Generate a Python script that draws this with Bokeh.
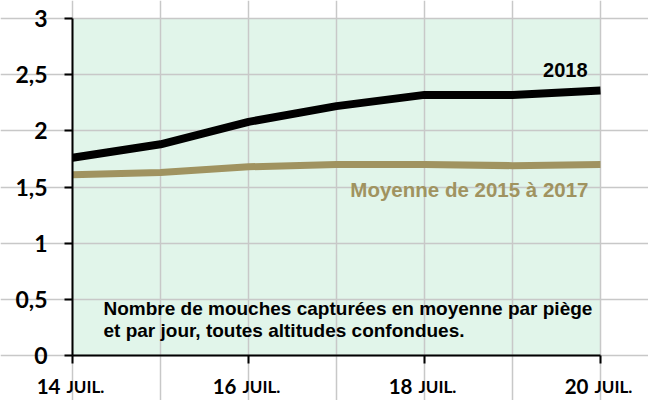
from bokeh.plotting import figure
from bokeh.models import FixedTicker, Range1d
from bokeh.core.properties import value
from bokeh.embed import file_html
from bokeh.resources import INLINE

days = [14, 15, 16, 17, 18, 19, 20]
series_2018 = [1.76, 1.88, 2.08, 2.22, 2.32, 2.32, 2.36]
series_moyenne = [1.61, 1.63, 1.68, 1.70, 1.70, 1.69, 1.70]
x_tick_days = [14, 16, 18, 20]
x_tick_numbers = ["14", "16", "18", "20"]
x_tick_month = "JUIL."
y_ticks = [0, 0.5, 1, 1.5, 2, 2.5, 3]
y_tick_labels = ["0", "0,5", "1", "1,5", "2", "2,5", "3"]
label_2018 = "2018"
label_moyenne = "Moyenne de 2015 à 2017"
note_lines = ["Nombre de mouches capturées en moyenne par piège",
              "et par jour, toutes altitudes confondues."]

BLACK = "#000000"
TAN = "#A09360"
BG = "#E1F5EA"
GRID = "#C8C8C8"

# layout: plot area spans 72..600 px horizontally, 18..355 px vertically
W, H = 648, 400
LEFT, RIGHT, TOP, BOTTOM = 72, 600, 18, 355
px_day = (RIGHT - LEFT) / (days[-1] - days[0])
px_unit = (BOTTOM - TOP) / (y_ticks[-1] - y_ticks[0])
x_start = days[0] - LEFT / px_day
x_end = days[-1] + (W - RIGHT) / px_day
y_end = y_ticks[-1] + TOP / px_unit
y_start = y_ticks[0] - (H - BOTTOM) / px_unit


def ypx(py):
    return (BOTTOM - py) / px_unit


def xpx(px):
    return days[0] + (px - LEFT) / px_day


p = figure(width=W, height=H, min_border=0,
           x_range=Range1d(x_start, x_end), y_range=Range1d(y_start, y_end),
           output_backend="svg", toolbar_location=None)

p.background_fill_color = "white"
p.border_fill_color = "white"
p.outline_line_color = None

# plot-area background
p.quad(left=[days[0]], right=[days[-1]], bottom=[y_ticks[0]], top=[y_ticks[-1]],
       fill_color=BG, line_color=None, level="image")

p.xgrid.ticker = FixedTicker(ticks=days)
p.ygrid.ticker = FixedTicker(ticks=y_ticks)
p.xgrid.bounds = (y_ticks[0], y_ticks[-1])
p.ygrid.bounds = (days[0], days[-1])
p.xgrid.grid_line_color = GRID
p.ygrid.grid_line_color = GRID
p.xgrid.grid_line_width = 1.5
p.ygrid.grid_line_width = 1.5

p.xaxis.fixed_location = y_ticks[0]
p.yaxis.fixed_location = days[0]
p.xaxis.bounds = (days[0], days[-1])
p.yaxis.bounds = (y_ticks[0], y_ticks[-1])
p.xaxis.ticker = FixedTicker(ticks=x_tick_days)
p.xaxis.major_label_overrides = {d: "" for d in x_tick_days}
p.yaxis.ticker = FixedTicker(ticks=y_ticks)
p.yaxis.major_label_overrides = {t: l for t, l in zip(y_ticks, y_tick_labels)}
p.yaxis.major_label_text_font = "Lato"
p.yaxis.major_label_text_font_style = "bold"
p.yaxis.major_label_text_font_size = "23px"
p.yaxis.major_label_text_color = BLACK
p.yaxis.major_label_standoff = 17
for ax in (p.xaxis, p.yaxis):
    ax.axis_line_color = BLACK
    ax.axis_line_width = 2
    ax.major_tick_line_color = BLACK
    ax.major_tick_line_width = 2
    ax.major_tick_out = 8
    ax.major_tick_in = 0
    ax.minor_tick_line_color = None

p.line(days, series_moyenne, line_color=TAN, line_width=7)
p.line(days, series_2018, line_color=BLACK, line_width=8)

arial = value("Liberation Sans")
p.text(x=[xpx(587)], y=[ypx(69)], text=[label_2018], text_align="right",
       text_baseline="alphabetic", text_font=arial, text_font_style="bold",
       text_font_size="20px", text_color=BLACK)
p.text(x=[xpx(588)], y=[ypx(189)], text=[label_moyenne], text_align="right",
       text_baseline="alphabetic", text_font=arial, text_font_style="bold",
       text_font_size="20.5px", text_color=TAN)
p.text(x=[xpx(103)] * len(note_lines), y=[ypx(308), ypx(330)], text=note_lines,
       text_align="left", text_baseline="alphabetic", text_font=arial,
       text_font_style="bold", text_font_size="19px", text_color=BLACK)

lato = value("Lato")
tick_y = [ypx(386)] * len(x_tick_days)
p.text(x=x_tick_days, y=tick_y, text=x_tick_numbers, text_align="right",
       x_offset=-12, text_baseline="alphabetic", text_font=lato,
       text_font_style="bold", text_font_size="20.5px", text_color=BLACK)
p.text(x=x_tick_days, y=tick_y, text=[x_tick_month] * len(x_tick_days),
       text_align="left", x_offset=-6, text_baseline="alphabetic",
       text_font=lato, text_font_style="bold", text_font_size="17px",
       text_color=BLACK)

open("out.html", "w").write(file_html(p, INLINE))
